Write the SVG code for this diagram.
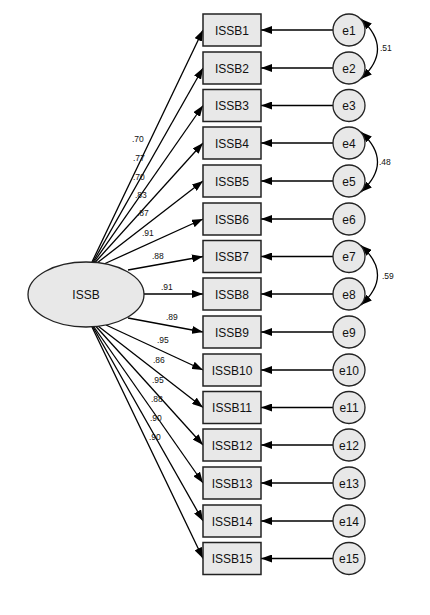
<svg xmlns="http://www.w3.org/2000/svg" width="430" height="615" viewBox="0 0 430 615">
<defs>
<marker id="ah" markerWidth="11" markerHeight="8" refX="11" refY="4" orient="auto-start-reverse" markerUnits="userSpaceOnUse"><path d="M0,0 L11,4 L0,8 z" fill="#000"/></marker>
<style>
.box{fill:#e8e8e8;stroke:#222;stroke-width:1.5}
.circ{fill:#e8e8e8;stroke:#222;stroke-width:1.3}
.t{font-family:"Liberation Sans",Arial,sans-serif;font-size:12px;fill:#111;text-anchor:middle}
.lbl{font-family:"Liberation Sans",Arial,sans-serif;font-size:8.5px;fill:#111}
.ln{stroke:#000;stroke-width:1.3;fill:none;marker-end:url(#ah)}
.cov{stroke:#000;stroke-width:1.3;fill:none;marker-start:url(#ah);marker-end:url(#ah)}
</style>
</defs>
<rect width="430" height="615" fill="#fff"/>
<g id="connectors">
<line class="ln" x1="92" y1="262" x2="203" y2="30"/>
<line class="ln" x1="93" y1="262" x2="203" y2="68"/>
<line class="ln" x1="94" y1="262" x2="203" y2="105.5"/>
<line class="ln" x1="95" y1="262.5" x2="203" y2="143"/>
<line class="ln" x1="97" y1="263" x2="203" y2="181"/>
<line class="ln" x1="104" y1="264" x2="203" y2="219"/>
<line class="ln" x1="128" y1="270" x2="203" y2="256.5"/>
<line class="ln" x1="144" y1="294" x2="203" y2="294"/>
<line class="ln" x1="128" y1="318" x2="203" y2="332"/>
<line class="ln" x1="106" y1="325" x2="203" y2="370"/>
<line class="ln" x1="98" y1="326" x2="203" y2="407.5"/>
<line class="ln" x1="96" y1="326.5" x2="203" y2="445"/>
<line class="ln" x1="94" y1="327" x2="203" y2="483"/>
<line class="ln" x1="93" y1="327" x2="203" y2="521"/>
<line class="ln" x1="92" y1="327" x2="203" y2="558.5"/>
<line class="ln" x1="333" y1="30" x2="261" y2="30"/>
<line class="ln" x1="333" y1="68" x2="261" y2="68"/>
<line class="ln" x1="333" y1="105.5" x2="261" y2="105.5"/>
<line class="ln" x1="333" y1="143" x2="261" y2="143"/>
<line class="ln" x1="333" y1="181" x2="261" y2="181"/>
<line class="ln" x1="333" y1="219" x2="261" y2="219"/>
<line class="ln" x1="333" y1="256.5" x2="261" y2="256.5"/>
<line class="ln" x1="333" y1="294" x2="261" y2="294"/>
<line class="ln" x1="333" y1="332" x2="261" y2="332"/>
<line class="ln" x1="333" y1="370" x2="261" y2="370"/>
<line class="ln" x1="333" y1="407.5" x2="261" y2="407.5"/>
<line class="ln" x1="333" y1="445" x2="261" y2="445"/>
<line class="ln" x1="333" y1="483" x2="261" y2="483"/>
<line class="ln" x1="333" y1="521" x2="261" y2="521"/>
<line class="ln" x1="333" y1="558.5" x2="261" y2="558.5"/>
<path class="cov" d="M361,19 Q394,49 361,79"/>
<path class="cov" d="M361,132 Q394,162 361,192"/>
<path class="cov" d="M361,245.5 Q394,275 361,305"/>
<text class="lbl" x="132" y="142">.70</text>
<text class="lbl" x="133" y="161">.77</text>
<text class="lbl" x="133" y="180">.70</text>
<text class="lbl" x="135" y="198">.83</text>
<text class="lbl" x="137" y="216">.87</text>
<text class="lbl" x="142" y="236">.91</text>
<text class="lbl" x="152" y="259">.88</text>
<text class="lbl" x="161" y="290">.91</text>
<text class="lbl" x="166" y="320">.89</text>
<text class="lbl" x="157" y="343">.95</text>
<text class="lbl" x="153" y="363">.86</text>
<text class="lbl" x="152" y="383">.95</text>
<text class="lbl" x="151" y="402">.88</text>
<text class="lbl" x="150" y="421">.90</text>
<text class="lbl" x="149" y="440">.90</text>
<text class="lbl" x="380" y="51">.51</text>
<text class="lbl" x="379" y="165">.48</text>
<text class="lbl" x="382" y="279">.59</text>
</g>
<g id="ISSB"><ellipse class="circ" cx="86" cy="294.5" rx="58" ry="32.5"/><text class="t" x="86" y="299">ISSB</text></g>
<g id="ISSB1"><rect class="box" x="203" y="14" width="58" height="32"/><text class="t" x="232" y="34.5">ISSB1</text></g>
<g id="ISSB2"><rect class="box" x="203" y="52" width="58" height="32"/><text class="t" x="232" y="72.5">ISSB2</text></g>
<g id="ISSB3"><rect class="box" x="203" y="89.5" width="58" height="32"/><text class="t" x="232" y="110">ISSB3</text></g>
<g id="ISSB4"><rect class="box" x="203" y="127" width="58" height="32"/><text class="t" x="232" y="147.5">ISSB4</text></g>
<g id="ISSB5"><rect class="box" x="203" y="165" width="58" height="32"/><text class="t" x="232" y="185.5">ISSB5</text></g>
<g id="ISSB6"><rect class="box" x="203" y="203" width="58" height="32"/><text class="t" x="232" y="223.5">ISSB6</text></g>
<g id="ISSB7"><rect class="box" x="203" y="240.5" width="58" height="32"/><text class="t" x="232" y="261">ISSB7</text></g>
<g id="ISSB8"><rect class="box" x="203" y="278" width="58" height="32"/><text class="t" x="232" y="298.5">ISSB8</text></g>
<g id="ISSB9"><rect class="box" x="203" y="316" width="58" height="32"/><text class="t" x="232" y="336.5">ISSB9</text></g>
<g id="ISSB10"><rect class="box" x="203" y="354" width="58" height="32"/><text class="t" x="232" y="374.5">ISSB10</text></g>
<g id="ISSB11"><rect class="box" x="203" y="391.5" width="58" height="32"/><text class="t" x="232" y="412">ISSB11</text></g>
<g id="ISSB12"><rect class="box" x="203" y="429" width="58" height="32"/><text class="t" x="232" y="449.5">ISSB12</text></g>
<g id="ISSB13"><rect class="box" x="203" y="467" width="58" height="32"/><text class="t" x="232" y="487.5">ISSB13</text></g>
<g id="ISSB14"><rect class="box" x="203" y="505" width="58" height="32"/><text class="t" x="232" y="525.5">ISSB14</text></g>
<g id="ISSB15"><rect class="box" x="203" y="542.5" width="58" height="32"/><text class="t" x="232" y="563">ISSB15</text></g>
<g id="e1"><circle class="circ" cx="349" cy="30" r="16"/><text class="t" x="349" y="34.5">e1</text></g>
<g id="e2"><circle class="circ" cx="349" cy="68" r="16"/><text class="t" x="349" y="72.5">e2</text></g>
<g id="e3"><circle class="circ" cx="349" cy="105.5" r="16"/><text class="t" x="349" y="110">e3</text></g>
<g id="e4"><circle class="circ" cx="349" cy="143" r="16"/><text class="t" x="349" y="147.5">e4</text></g>
<g id="e5"><circle class="circ" cx="349" cy="181" r="16"/><text class="t" x="349" y="185.5">e5</text></g>
<g id="e6"><circle class="circ" cx="349" cy="219" r="16"/><text class="t" x="349" y="223.5">e6</text></g>
<g id="e7"><circle class="circ" cx="349" cy="256.5" r="16"/><text class="t" x="349" y="261">e7</text></g>
<g id="e8"><circle class="circ" cx="349" cy="294" r="16"/><text class="t" x="349" y="298.5">e8</text></g>
<g id="e9"><circle class="circ" cx="349" cy="332" r="16"/><text class="t" x="349" y="336.5">e9</text></g>
<g id="e10"><circle class="circ" cx="349" cy="370" r="16"/><text class="t" x="349" y="374.5">e10</text></g>
<g id="e11"><circle class="circ" cx="349" cy="407.5" r="16"/><text class="t" x="349" y="412">e11</text></g>
<g id="e12"><circle class="circ" cx="349" cy="445" r="16"/><text class="t" x="349" y="449.5">e12</text></g>
<g id="e13"><circle class="circ" cx="349" cy="483" r="16"/><text class="t" x="349" y="487.5">e13</text></g>
<g id="e14"><circle class="circ" cx="349" cy="521" r="16"/><text class="t" x="349" y="525.5">e14</text></g>
<g id="e15"><circle class="circ" cx="349" cy="558.5" r="16"/><text class="t" x="349" y="563">e15</text></g>
</svg>
